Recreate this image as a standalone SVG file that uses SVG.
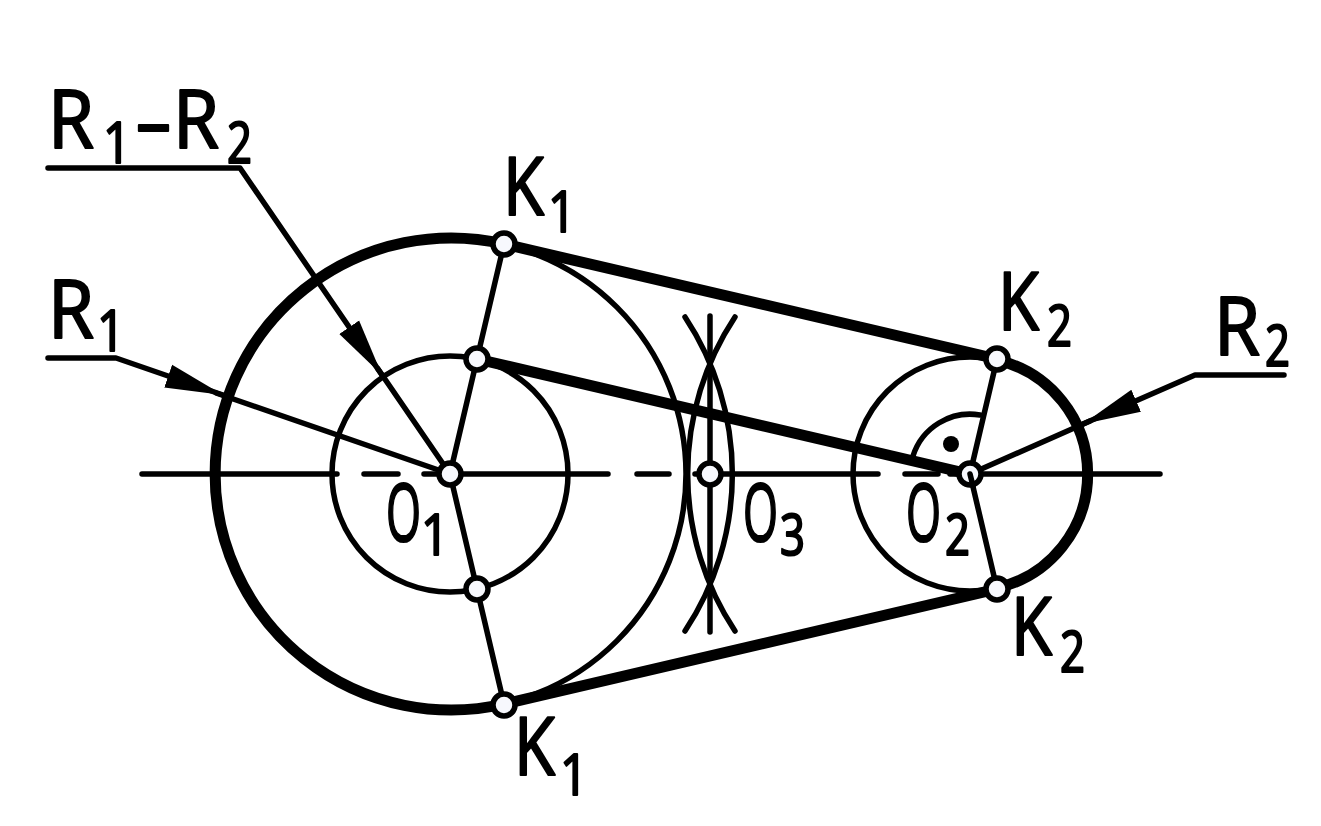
<svg xmlns="http://www.w3.org/2000/svg" width="1321" height="826" viewBox="0 0 1321 826">
<style>
.thin{fill:none;stroke:#000;stroke-width:5.5;stroke-linecap:round;stroke-linejoin:round}
.thick{fill:none;stroke:#000;stroke-width:11}
.pt{fill:#f7f8fd;stroke:#000;stroke-width:5.5}
text{font-family:"Open Sans","Liberation Sans",Arial,sans-serif;font-size:80px;fill:#000;stroke:#000;stroke-width:2.2;stroke-linejoin:round}
.s{font-size:57px}
</style>
<defs>
<marker id="arrow" markerUnits="userSpaceOnUse" markerWidth="62" markerHeight="28" refX="58" refY="14" orient="auto">
<path d="M0,2 L58,14 L0,26 Z" fill="#000"/>
</marker>
</defs>
<rect width="1321" height="826" fill="#fff"/>
<g id="connectors">
<g id="centerline">
<path class="thin" d="M142,474H337M364,474H398M424,474H608M637,474H669M695,474H878M905,474H938M950,474H1160"/>
<path class="thin" d="M710,316V632"/>
<path class="thin" d="M685,317A284,284 0 0 1 685,631"/>
<path class="thin" d="M735,317A284,284 0 0 0 735,631"/>
</g>
<g id="circles">
<circle class="thin" cx="450" cy="474" r="236"/>
<circle class="thin" cx="450" cy="474" r="118"/>
<circle class="thin" cx="970" cy="474" r="117"/>
<path class="thick" d="M504,244A236,236 0 1 0 504,704"/>
<path class="thick" d="M997,360A117,117 0 0 1 997,588"/>
</g>
<g id="tangents">
<path class="thick" d="M504,244L997,359"/>
<path class="thick" d="M477,359L969,474"/>
<path class="thick" d="M504,704L997,589"/>
</g>
<g id="radii">
<path class="thin" d="M504,244L450,474L504,704"/>
<path class="thin" d="M997,359L970,474L997,589"/>
<path class="thin" d="M913,456A60,60 0 0 1 980,415"/>
<circle cx="951" cy="444" r="8" fill="#000"/>
</g>
<g id="leaders">
<polyline class="thin" points="48,168 240,168 382,375" marker-end="url(#arrow)"/>
<path class="thin" d="M378,369L450,474"/>
<polyline class="thin" points="48,358 116,358 223,395" marker-end="url(#arrow)"/>
<path class="thin" d="M216,393L450,474"/>
<polyline class="thin" points="1284,375 1195,375 1083,424" marker-end="url(#arrow)"/>
<path class="thin" d="M1090,421L970,474"/>
</g>
</g>
<g id="label-r1-r2"><text><tspan x="48" y="148" textLength="46" lengthAdjust="spacingAndGlyphs">R</tspan><tspan class="s" x="103" y="163" textLength="28" lengthAdjust="spacingAndGlyphs">1</tspan><tspan x="136" y="150" textLength="35" lengthAdjust="spacingAndGlyphs">–</tspan><tspan x="173" y="148" textLength="46" lengthAdjust="spacingAndGlyphs">R</tspan><tspan class="s" x="227" y="163" textLength="25" lengthAdjust="spacingAndGlyphs">2</tspan></text></g>
<g id="label-r1"><text><tspan x="48" y="338" textLength="46" lengthAdjust="spacingAndGlyphs">R</tspan><tspan class="s" x="97" y="351" textLength="28" lengthAdjust="spacingAndGlyphs">1</tspan></text></g>
<g id="label-r2"><text><tspan x="1214" y="355" textLength="46" lengthAdjust="spacingAndGlyphs">R</tspan><tspan class="s" x="1265" y="366" textLength="25" lengthAdjust="spacingAndGlyphs">2</tspan></text></g>
<g id="node-o1"><circle class="pt" cx="450" cy="474" r="11"/><text><tspan x="386" y="541" textLength="35" lengthAdjust="spacingAndGlyphs">O</tspan><tspan class="s" x="421" y="555" textLength="28" lengthAdjust="spacingAndGlyphs">1</tspan></text></g>
<g id="node-o2"><circle class="pt" cx="970" cy="474" r="11"/><path class="thin" d="M970,474L973,486"/><text><tspan x="906" y="541" textLength="35" lengthAdjust="spacingAndGlyphs">O</tspan><tspan class="s" x="945" y="555" textLength="25" lengthAdjust="spacingAndGlyphs">2</tspan></text></g>
<g id="node-o3"><circle class="pt" cx="710" cy="474" r="11"/><text><tspan x="743" y="541" textLength="35" lengthAdjust="spacingAndGlyphs">O</tspan><tspan class="s" x="780" y="555" textLength="25" lengthAdjust="spacingAndGlyphs">3</tspan></text></g>
<g id="node-k1-top"><circle class="pt" cx="504" cy="244" r="11"/><text><tspan x="503" y="215" textLength="41" lengthAdjust="spacingAndGlyphs">K</tspan><tspan class="s" x="548" y="232" textLength="28" lengthAdjust="spacingAndGlyphs">1</tspan></text></g>
<g id="node-k1-bottom"><circle class="pt" cx="504" cy="705" r="11"/><text><tspan x="514" y="775" textLength="41" lengthAdjust="spacingAndGlyphs">K</tspan><tspan class="s" x="560" y="795" textLength="28" lengthAdjust="spacingAndGlyphs">1</tspan></text></g>
<g id="node-k2-top"><circle class="pt" cx="997" cy="359" r="11"/><text><tspan x="998" y="330" textLength="41" lengthAdjust="spacingAndGlyphs">K</tspan><tspan class="s" x="1047" y="346" textLength="25" lengthAdjust="spacingAndGlyphs">2</tspan></text></g>
<g id="node-k2-bottom"><circle class="pt" cx="997" cy="589" r="11"/><text><tspan x="1011" y="655" textLength="41" lengthAdjust="spacingAndGlyphs">K</tspan><tspan class="s" x="1060" y="672" textLength="25" lengthAdjust="spacingAndGlyphs">2</tspan></text></g>
<g id="node-inner-top"><circle class="pt" cx="477" cy="359" r="11"/></g>
<g id="node-inner-bottom"><circle class="pt" cx="477" cy="589" r="11"/></g>
</svg>
